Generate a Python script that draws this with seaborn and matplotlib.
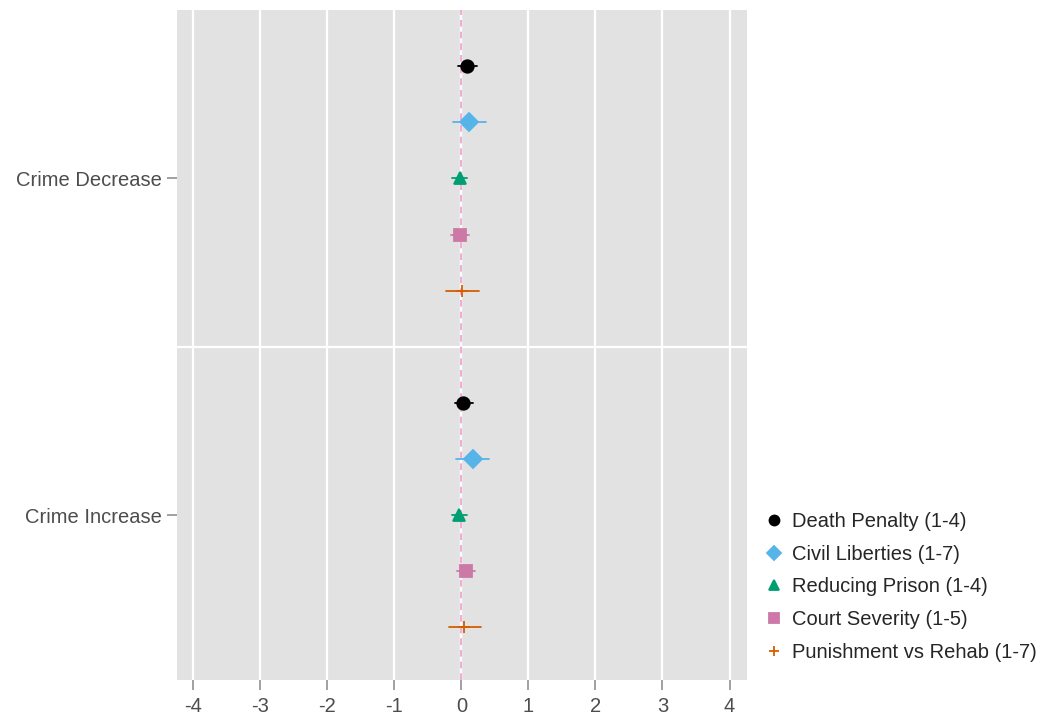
import pandas as pd
import matplotlib
matplotlib.use("Agg")
import matplotlib.pyplot as plt
import seaborn as sns

# values
outcomes = ["Crime Decrease", "Crime Increase"]
measures = ["Death Penalty (1-4)", "Civil Liberties (1-7)", "Reducing Prison (1-4)",
            "Court Severity (1-5)", "Punishment vs Rehab (1-7)"]

est_decrease = [0.085, 0.12, -0.025, -0.015, 0.015]
lo_decrease = [-0.055, -0.12, -0.14, -0.15, -0.23]
hi_decrease = [0.23, 0.37, 0.09, 0.12, 0.26]

est_increase = [0.03, 0.17, -0.03, 0.065, 0.045]
lo_increase = [-0.10, -0.075, -0.14, -0.065, -0.19]
hi_increase = [0.17, 0.42, 0.085, 0.20, 0.30]

colors = ["#000000", "#56B4E9", "#009E73", "#CC79A7", "#D55E00"]
markers = ["o", "D", "^", "s", "+"]

# long table: lower bound, estimate, upper bound per group
rows = []
for outcome, est, lo, hi in [(outcomes[0], est_decrease, lo_decrease, hi_decrease),
                             (outcomes[1], est_increase, lo_increase, hi_increase)]:
    for m, e, l, h in zip(measures, est, lo, hi):
        for v in (l, e, h):
            rows.append({"outcome": outcome, "measure": m, "effect": v})
df = pd.DataFrame(rows)

sns.set_style("white")
plt.rcParams["font.family"] = ["Liberation Sans", "DejaVu Sans"]

fig = plt.figure(figsize=(10.45, 7.17), dpi=100)
ax = fig.add_axes([0.1694, 0.0516, 0.5454, 0.9344])
ax.set_facecolor("#E2E2E2")

ax.axvline(0, color="white", lw=1.6, zorder=0.5)
ax.axvline(0, color="#EE9CCB", lw=1.2, ls=(0, (4, 3)), zorder=1)

sns.pointplot(data=df, x="effect", y="outcome", hue="measure",
              order=outcomes, hue_order=measures,
              estimator="median", errorbar=("pi", 100),
              palette=colors, markers=markers, linestyles="none",
              dodge=0.667, markersize=9, markeredgewidth=1.3,
              err_kws={"linewidth": 1.3}, ax=ax)

ax.set_xlim(-4.24, 4.26)
ax.set_ylim(1.49, -0.5)
ax.set_xticks(range(-4, 5))
ax.set_xticklabels([str(t) for t in range(-4, 5)])
ax.grid(axis="x", color="white", lw=1.6)
ax.set_axisbelow(True)
ax.axhline(0.5, color="white", lw=1.6, zorder=0.5)
for s in ax.spines.values():
    s.set_visible(False)
ax.tick_params(axis="both", colors="#888888", length=7, width=1.1,
               labelsize=14.5, labelcolor="#4D4D4D", pad=3)
ax.tick_params(axis="x", bottom=True, pad=5)
ax.tick_params(axis="y", left=True, pad=4)
ax.set_xlabel("")
ax.set_ylabel("")

sns.move_legend(ax, loc="lower left", bbox_to_anchor=(0.995, 0.0), frameon=False,
                title=None, fontsize=14.5, handletextpad=0.3, labelspacing=0.68,
                handlelength=1.2, markerscale=0.8)

fig.savefig("out.png", dpi=100)
